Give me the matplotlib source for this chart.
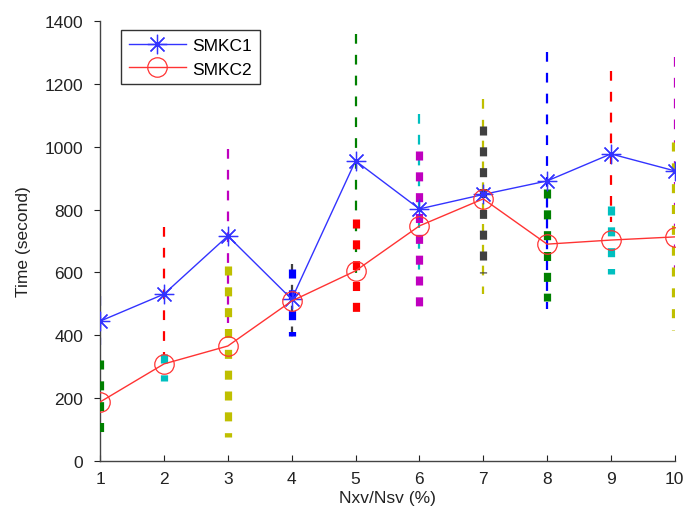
import matplotlib
matplotlib.use("Agg")
import matplotlib.pyplot as plt

x = [1, 2, 3, 4, 5, 6, 7, 8, 9, 10]
smkc1 = [445, 531, 716, 515, 955, 802, 848, 891, 977, 923]
smkc2 = [188, 309, 366, 509, 605, 748, 834, 690, 703, 713]

# thin dashed ranges (SMKC1)
thin_lo = [368, 334, 440, 388, 547, 560, 531, 484, 760, 560]
thin_hi = [525, 745, 993, 627, 1359, 1104, 1152, 1301, 1241, 1285]
thin_col = ['b', 'r', 'm', 'k', 'g', 'c', 'y', 'b', 'r', 'm']

# thick dashed ranges (SMKC2)
thick_lo = [58, 255, 76, 398, 445, 494, 598, 508, 595, 418]
thick_hi = [322, 340, 620, 612, 770, 986, 1066, 866, 812, 1014]
thick_col = ['g', 'c', 'y', 'b', 'r', 'm', 'k', 'g', 'c', 'y']

xticks = [1, 2, 3, 4, 5, 6, 7, 8, 9, 10]
yticks = [0, 200, 400, 600, 800, 1000, 1200, 1400]

cmap = {'b': (0, 0, 1), 'r': (1, 0, 0), 'm': (0.75, 0, 0.75), 'k': (0.25, 0.25, 0.25),
        'g': (0, 0.5, 0), 'c': (0, 0.75, 0.75), 'y': (0.75, 0.75, 0)}

plt.rcParams['font.family'] = ['Liberation Sans', 'DejaVu Sans']
plt.rcParams['lines.scale_dashes'] = False

fig = plt.figure(figsize=(7, 5.1), dpi=100)
ax = fig.add_axes([0.143, 0.094, 0.821, 0.863])

for xi, lo, hi, c in zip(x, thin_lo, thin_hi, thin_col):
    ax.plot([xi, xi], [hi, lo], color=cmap[c], lw=1.6, dashes=(7, 8),
            solid_capstyle='butt', dash_capstyle='butt', zorder=2)
for xi, lo, hi, c in zip(x, thick_lo, thick_hi, thick_col):
    ax.plot([xi, xi], [hi, lo], color=cmap[c], lw=5.2, dashes=(6.5, 8.5),
            dash_capstyle='butt', zorder=3)

ax.plot(x, smkc1, color='#3333ff', lw=1.0, marker=(8, 2, 0), markersize=14,
        markeredgewidth=0.9, markeredgecolor='#3333ff', label='SMKC1', zorder=5)
ax.plot(x, smkc2, color='#ff3333', lw=1.0, marker='o', markersize=14,
        markerfacecolor='none', markeredgewidth=0.9, markeredgecolor='#ff3333',
        label='SMKC2', zorder=5)

ax.set_xlim(1, 10)
ax.set_ylim(0, 1400)
ax.set_xticks(xticks)
ax.set_yticks(yticks)
ax.tick_params(length=4, labelsize=12.5, colors='#222222', width=0.8)
ax.tick_params(axis='x', direction='in', pad=7)
ax.tick_params(axis='y', direction='out', pad=8)
for s in ['top', 'right']:
    ax.spines[s].set_visible(False)
for s in ['left', 'bottom']:
    ax.spines[s].set_color('#444444')
    ax.spines[s].set_linewidth(1.0)

ax.set_xlabel('Nxv/Nsv (%)', fontsize=12.5, color='#222222', labelpad=3)
ax.set_ylabel('Time (second)', fontsize=12.5, color='#222222', labelpad=10)

leg = ax.legend(loc='upper left', bbox_to_anchor=(0.036, 0.98), borderaxespad=0,
                fontsize=12.5, fancybox=False, framealpha=1, edgecolor='#333333',
                handlelength=3.3, borderpad=0.45, labelspacing=0.5, handletextpad=0.35)
leg.get_frame().set_linewidth(1.0)

fig.savefig('out.png', dpi=100)
